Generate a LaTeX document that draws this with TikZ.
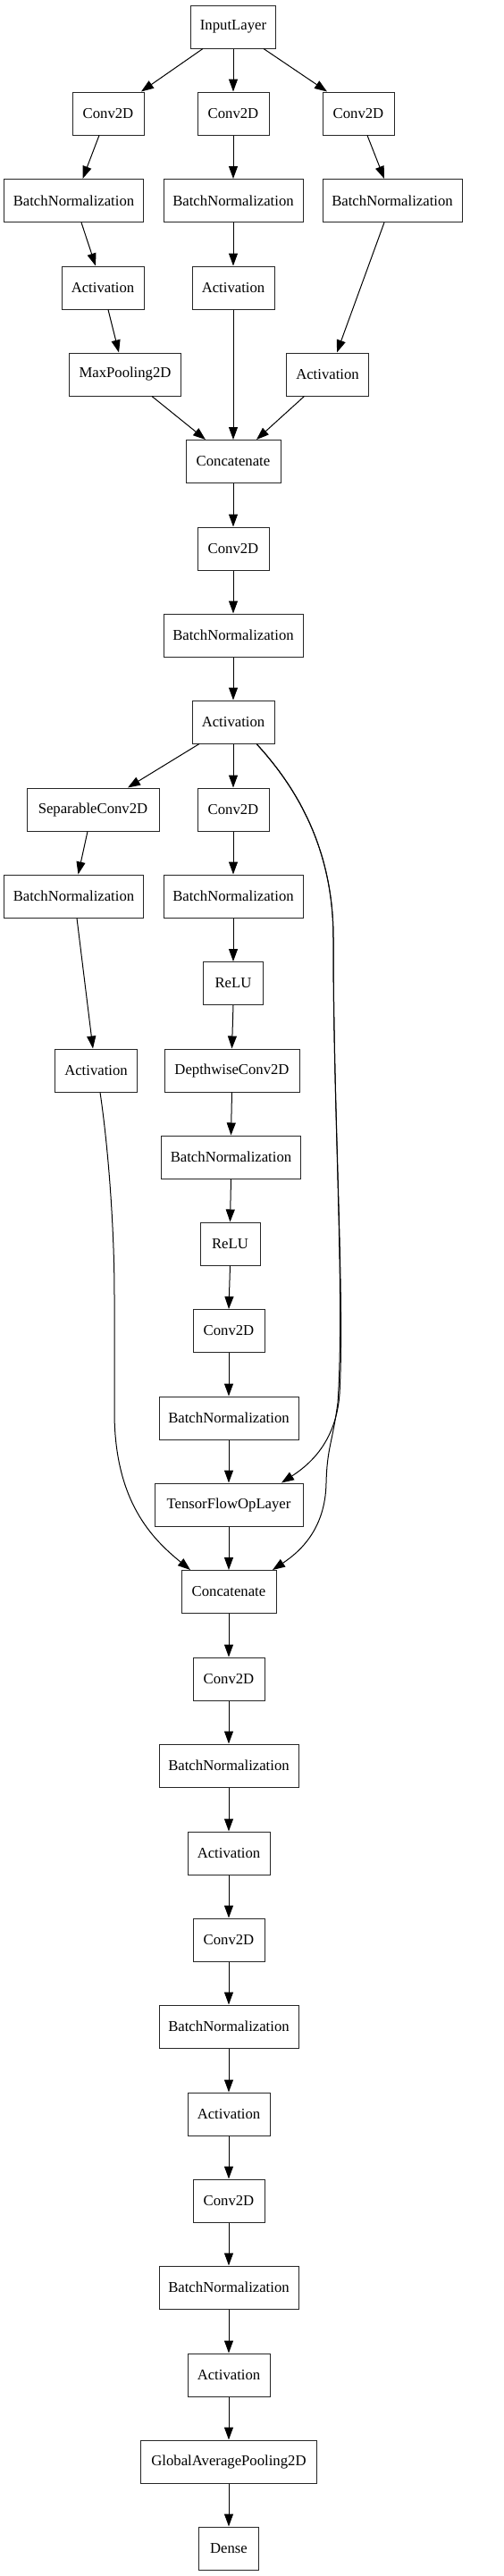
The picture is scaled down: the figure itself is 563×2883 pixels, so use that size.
\documentclass[tikz,border=0pt]{standalone}
\usepackage{fontspec}
\setmainfont{Liberation Serif}
\usetikzlibrary{arrows.meta}
\begin{document}
\begin{tikzpicture}[x=1pt,y=-1pt,
  layer/.style={draw=black!85, line width=1pt, minimum height=48pt, inner sep=0pt, font=\fontsize{16.7}{20}\selectfont},
  edge/.style={line width=1pt, draw=black, -{Triangle[length=14pt,width=10pt]}}]
\useasboundingbox[fill=white] (0,0) rectangle (563,2883);
% nodes
\node[layer, minimum width=95pt]  (in)   at (261,30)    {InputLayer};
\node[layer, minimum width=80pt]  (c1)   at (121,127)   {Conv2D};
\node[layer, minimum width=80pt]  (c2)   at (261,127)   {Conv2D};
\node[layer, minimum width=80pt]  (c3)   at (401,127)   {Conv2D};
\node[layer, minimum width=156pt] (b1)   at (82.5,224.5) {BatchNormalization};
\node[layer, minimum width=156pt] (b2)   at (261,224.5) {BatchNormalization};
\node[layer, minimum width=156pt] (b3)   at (439,224.5) {BatchNormalization};
\node[layer, minimum width=92pt]  (a1)   at (115,322)   {Activation};
\node[layer, minimum width=92pt]  (a2)   at (261,322)   {Activation};
\node[layer, minimum width=125pt] (mp)   at (140,419)   {MaxPooling2D};
\node[layer, minimum width=92pt]  (a3)   at (366.5,419) {Activation};
\node[layer, minimum width=106pt] (cat1) at (261,516.5) {Concatenate};
\node[layer, minimum width=80pt]  (c4)   at (261,614)   {Conv2D};
\node[layer, minimum width=156pt] (b4)   at (261,711)   {BatchNormalization};
\node[layer, minimum width=92pt]  (a4)   at (261,808)   {Activation};
\node[layer, minimum width=148pt] (sep)  at (104,906)   {SeparableConv2D};
\node[layer, minimum width=80pt]  (c5)   at (261,906)   {Conv2D};
\node[layer, minimum width=156pt] (b5)   at (82.5,1003) {BatchNormalization};
\node[layer, minimum width=156pt] (b6)   at (261,1003)  {BatchNormalization};
\node[layer, minimum width=67pt]  (r1)   at (261,1100.5) {ReLU};
\node[layer, minimum width=92pt]  (a5)   at (107.5,1198) {Activation};
\node[layer, minimum width=151pt] (dw)   at (259.5,1198) {DepthwiseConv2D};
\node[layer, minimum width=156pt] (b7)   at (258.5,1295) {BatchNormalization};
\node[layer, minimum width=67pt]  (r2)   at (257.5,1392) {ReLU};
\node[layer, minimum width=80pt]  (c6)   at (256,1489.5) {Conv2D};
\node[layer, minimum width=156pt] (b8)   at (256,1587)  {BatchNormalization};
\node[layer, minimum width=166pt] (tf)   at (256,1684)  {TensorFlowOpLayer};
\node[layer, minimum width=106pt] (cat2) at (256,1781.5) {Concatenate};
\node[layer, minimum width=80pt]  (c7)   at (256,1879)  {Conv2D};
\node[layer, minimum width=156pt] (b9)   at (256,1976)  {BatchNormalization};
\node[layer, minimum width=92pt]  (a6)   at (256,2074)  {Activation};
\node[layer, minimum width=80pt]  (c8)   at (256,2171)  {Conv2D};
\node[layer, minimum width=156pt] (b10)  at (256,2268)  {BatchNormalization};
\node[layer, minimum width=92pt]  (a7)   at (256,2366)  {Activation};
\node[layer, minimum width=80pt]  (c9)   at (256,2463)  {Conv2D};
\node[layer, minimum width=156pt] (b11)  at (256,2560)  {BatchNormalization};
\node[layer, minimum width=92pt]  (a8)   at (256,2658)  {Activation};
\node[layer, minimum width=197pt] (gap)  at (256,2755)  {GlobalAveragePooling2D};
\node[layer, minimum width=67pt]  (dense) at (256,2852) {Dense};
% edges
\draw[edge] ([xshift=-34pt]in.south) -- ([xshift=37pt]c1.north);
\draw[edge] (in) -- (c2);
\draw[edge] ([xshift=34pt]in.south) -- ([xshift=-35pt]c3.north);
\draw[edge] ([xshift=-10pt]c1.south) -- ([xshift=10pt]b1.north);
\draw[edge] (c2) -- (b2);
\draw[edge] ([xshift=10pt]c3.south) -- ([xshift=-9pt]b3.north);
\draw[edge] ([xshift=8.5pt]b1.south) -- ([xshift=-8pt]a1.north);
\draw[edge] (b2) -- (a2);
\draw[edge] ([xshift=-9pt]b3.south) -- ([xshift=10.5pt]a3.north);
\draw[edge] ([xshift=6pt]a1.south) -- ([xshift=-7pt]mp.north);
\draw[edge] (a2) -- (cat1);
\draw[edge] ([xshift=30pt]mp.south) -- ([xshift=-31pt]cat1.north);
\draw[edge] ([xshift=-26pt]a3.south) -- ([xshift=26pt]cat1.north);
\draw[edge] (cat1) -- (c4);
\draw[edge] (c4) -- (b4);
\draw[edge] (b4) -- (a4);
\draw[edge] ([xshift=-38pt]a4.south) -- ([xshift=39pt]sep.north);
\draw[edge] (a4) -- (c5);
\draw[edge] ([xshift=26pt]a4.south) .. controls (340,890) and (373,960) .. (373,1050)
  .. controls (373,1250) and (386,1450) .. (380,1560)
  .. controls (376,1615) and (345,1640) .. ([xshift=59pt]tf.north);
\draw[edge] ([xshift=26pt]a4.south) .. controls (340,890) and (373,960) .. (373,1050)
  .. controls (373,1250) and (386,1450) .. (378,1570)
  .. controls (372,1615) and (366,1620) .. (365,1660)
  .. controls (364,1712) and (335,1737) .. ([xshift=49pt]cat2.north);
\draw[edge] ([xshift=-6pt]sep.south) -- ([xshift=5pt]b5.north);
\draw[edge] (c5) -- (b6);
\draw[edge] (b6) -- (r1);
\draw[edge] ([xshift=3.5pt]b5.south) -- ([xshift=-3.5pt]a5.north);
\draw[edge] (r1.south) -- (dw.north);
\draw[edge] (dw.south) -- (b7.north);
\draw[edge] (b7.south) -- (r2.north);
\draw[edge] (r2.south) -- (c6.north);
\draw[edge] (c6) -- (b8);
\draw[edge] (b8) -- (tf);
\draw[edge] (tf) -- (cat2);
\draw[edge] ([xshift=4.5pt]a5.south) .. controls (122,1290) and (128,1380) .. (128,1450)
  -- (128,1580) .. controls (128,1680) and (170,1722) .. ([xshift=-43pt]cat2.north);
\draw[edge] (cat2) -- (c7);
\draw[edge] (c7) -- (b9);
\draw[edge] (b9) -- (a6);
\draw[edge] (a6) -- (c8);
\draw[edge] (c8) -- (b10);
\draw[edge] (b10) -- (a7);
\draw[edge] (a7) -- (c9);
\draw[edge] (c9) -- (b11);
\draw[edge] (b11) -- (a8);
\draw[edge] (a8) -- (gap);
\draw[edge] (gap) -- (dense);
\end{tikzpicture}
\end{document}
